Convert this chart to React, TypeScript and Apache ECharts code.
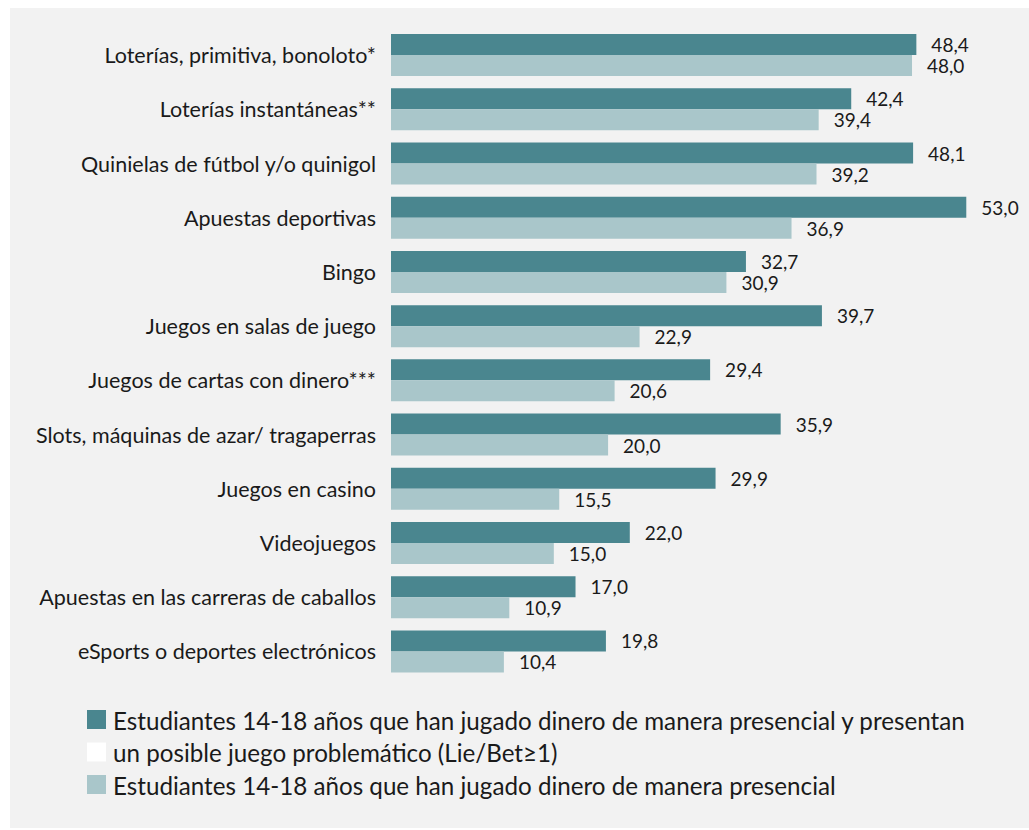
import React, { useEffect, useRef } from "react";
import * as echarts from "echarts";

const categories = [
  "Loterías, primitiva, bonoloto*",
  "Loterías instantáneas**",
  "Quinielas de fútbol y/o quinigol",
  "Apuestas deportivas",
  "Bingo",
  "Juegos en salas de juego",
  "Juegos de cartas con dinero***",
  "Slots, máquinas de azar/ tragaperras",
  "Juegos en casino",
  "Videojuegos",
  "Apuestas en las carreras de caballos",
  "eSports o deportes electrónicos",
];

const problematicValues = [48.4, 42.4, 48.1, 53.0, 32.7, 39.7, 29.4, 35.9, 29.9, 22.0, 17.0, 19.8];
const presencialValues = [48.0, 39.4, 39.2, 36.9, 30.9, 22.9, 20.6, 20.0, 15.5, 15.0, 10.9, 10.4];

const legendLines = [
  "Estudiantes 14-18 años que han jugado dinero de manera presencial y presentan",
  "un posible juego problemático (Lie/Bet≥1)",
  "Estudiantes 14-18 años que han jugado dinero de manera presencial",
];

const DARK = "#4a868f";
const LIGHT = "#a9c6ca";
const FONT = "Lato";

export default function App() {
  const ref = useRef<HTMLDivElement>(null);
  useEffect(() => {
    if (!ref.current) return;
    const chart = echarts.init(ref.current, null, { renderer: "svg" });
    const fmt = (p: any) => Number(p.value).toFixed(1).replace(".", ",");
    const legendColors = [DARK, "#ffffff", LIGHT];
    const legendGraphics: any[] = [];
    legendLines.forEach((t, i) => {
      const y = 710 + i * 32.5;
      legendGraphics.push({
        type: "rect",
        shape: { x: 87, y, width: 19, height: 19 },
        style: { fill: legendColors[i] },
        silent: true,
      });
      legendGraphics.push({
        type: "text",
        x: 113,
        y: y + 10,
        style: {
          text: t,
          fill: "#1a1a1a",
          font: `24.2px ${FONT}`,
          verticalAlign: "middle",
          align: "left",
        },
        silent: true,
      });
    });
    chart.setOption({
      animation: false,
      graphic: [
        {
          type: "rect",
          z: -10,
          shape: { x: 10, y: 8, width: 1019, height: 820 },
          style: { fill: "#f2f2f2" },
          silent: true,
        },
        ...legendGraphics,
      ],
      grid: { left: 391, right: 41, top: 28, height: 650.5, containLabel: false },
      xAxis: {
        type: "value",
        min: 0,
        max: 55,
        show: false,
        splitLine: { show: false },
      },
      yAxis: {
        type: "category",
        data: categories,
        inverse: true,
        axisLine: { show: false },
        axisTick: { show: false },
        axisLabel: {
          color: "#1a1a1a",
          fontFamily: FONT,
          fontSize: 21.5,
          margin: 15,
        },
      },
      series: [
        {
          name: legendLines[0] + " " + legendLines[1],
          type: "bar",
          data: problematicValues,
          barWidth: 21,
          barGap: "0%",
          itemStyle: { color: DARK },
          label: {
            show: true,
            position: "right",
            distance: 15,
            formatter: fmt,
            color: "#1a1a1a",
            fontFamily: FONT,
            fontSize: 19,
          },
        },
        {
          name: legendLines[2],
          type: "bar",
          data: presencialValues,
          barWidth: 21,
          barGap: "0%",
          itemStyle: { color: LIGHT },
          label: {
            show: true,
            position: "right",
            distance: 15,
            formatter: fmt,
            color: "#1a1a1a",
            fontFamily: FONT,
            fontSize: 19,
          },
        },
      ],
    });
    return () => chart.dispose();
  }, []);
  return (
    <div
      ref={ref}
      style={{ position: "absolute", left: 0, top: 0, width: 1029, height: 830, background: "#ffffff" }}
    />
  );
}
